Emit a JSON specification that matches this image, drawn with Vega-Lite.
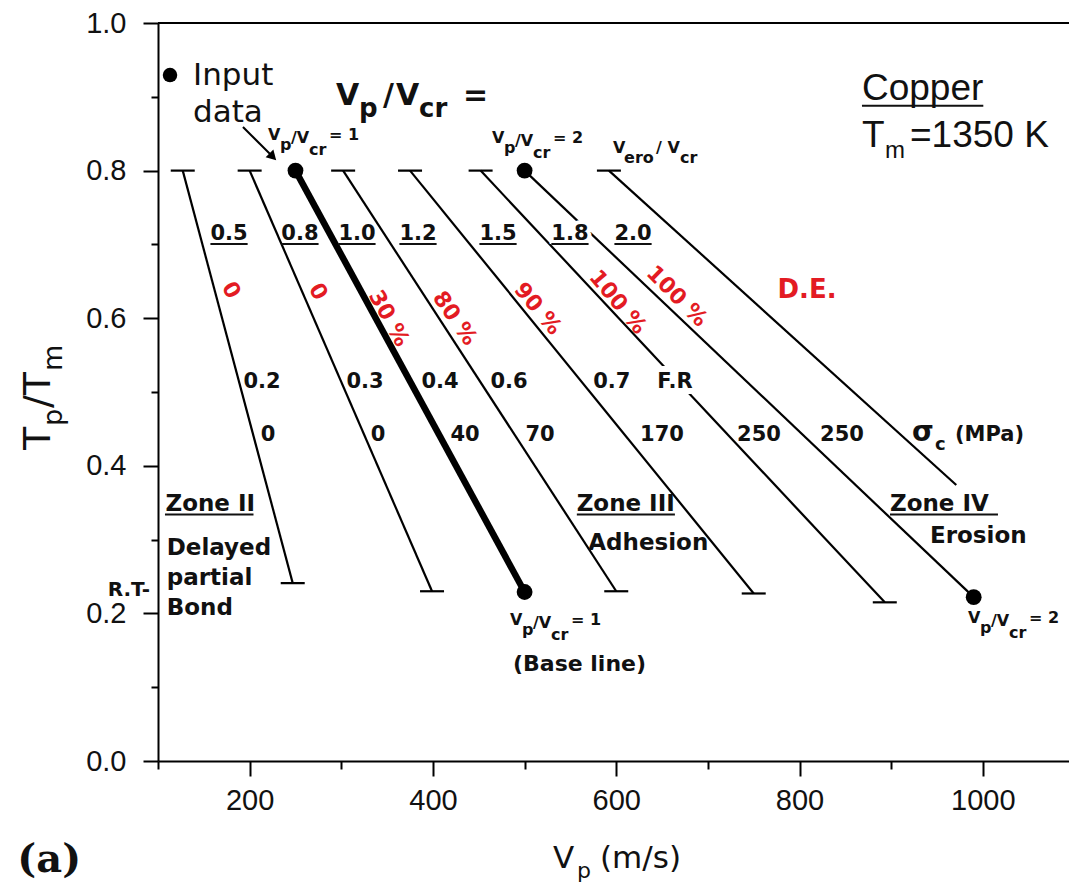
{
  "$schema": "https://vega.github.io/schema/vega-lite/v6.json",
  "width": 911,
  "height": 738,
  "autosize": {"type": "none"},
  "padding": {"left": 158, "top": 23, "right": 0, "bottom": 127},
  "background": "white",
  "config": {"view": {"stroke": null}, "text": {"font": "DejaVu Sans", "color": "#111"}},
  "datasets": {
    "frame": [{"v": 100, "v2": 1094, "t": 1}],
    "lines": [
      {"ratio": "0.5", "v": 127, "t": 0.8, "end": "cap"}, {"ratio": "0.5", "v": 247, "t": 0.241, "end": "cap"},
      {"ratio": "0.8", "v": 200, "t": 0.8, "end": "cap"}, {"ratio": "0.8", "v": 399, "t": 0.23, "end": "cap"},
      {"ratio": "1.0", "v": 250, "t": 0.8, "end": "dot"}, {"ratio": "1.0", "v": 500, "t": 0.229, "end": "dot"},
      {"ratio": "1.2", "v": 302, "t": 0.8, "end": "cap"}, {"ratio": "1.2", "v": 600, "t": 0.23, "end": "cap"},
      {"ratio": "1.5", "v": 375, "t": 0.8, "end": "cap"}, {"ratio": "1.5", "v": 750, "t": 0.227, "end": "cap"},
      {"ratio": "1.8", "v": 452, "t": 0.8, "end": "cap"}, {"ratio": "1.8", "v": 893, "t": 0.215, "end": "cap"},
      {"ratio": "2.0", "v": 500, "t": 0.8, "end": "dot"}, {"ratio": "2.0", "v": 990, "t": 0.222, "end": "dot"},
      {"ratio": "ero", "v": 592, "t": 0.8, "end": "cap"}, {"ratio": "ero", "v": 971, "t": 0.374, "end": "open"}
    ],
    "arrow": [{"v": 192.7, "t": 0.8591, "v2": 225.3, "t2": 0.8187}],
    "markers": [{"v": 113.1, "t": 0.9295}],
    "ratios": [
      {"label": "0.5", "v": 177.5, "t": 0.706}, {"label": "0.8", "v": 254.9, "t": 0.706},
      {"label": "1.0", "v": 317.1, "t": 0.706}, {"label": "1.2", "v": 383.7, "t": 0.706},
      {"label": "1.5", "v": 471.0, "t": 0.706}, {"label": "1.8", "v": 549.5, "t": 0.706},
      {"label": "2.0", "v": 618.3, "t": 0.706}
    ],
    "underlines": [
      {"v": 157.2, "v2": 197.8, "t": 0.7005}, {"v": 234.6, "v2": 275.2, "t": 0.7005},
      {"v": 296.8, "v2": 337.4, "t": 0.7005}, {"v": 363.4, "v2": 404.0, "t": 0.7005},
      {"v": 450.7, "v2": 491.3, "t": 0.7005}, {"v": 529.2, "v2": 569.8, "t": 0.7005},
      {"v": 598.0, "v2": 638.6, "t": 0.7005},
      {"v": 107.6, "v2": 204.2, "t": 0.334}, {"v": 557.0, "v2": 664.0, "t": 0.334},
      {"v": 898.7, "v2": 1016.5, "t": 0.334},
      {"v": 868.1, "v2": 1000.5, "t": 0.888}
    ],
    "de": [
      {"de": "0", "v": 179.7, "t": 0.638}, {"de": "0", "v": 274.6, "t": 0.636},
      {"de": "30 %", "v": 352.0, "t": 0.6}, {"de": "80 %", "v": 424.0, "t": 0.6},
      {"de": "90 %", "v": 514.6, "t": 0.613}, {"de": "100 %", "v": 601.9, "t": 0.622},
      {"de": "100 %", "v": 666.3, "t": 0.63}
    ],
    "rows": [
      {"txt": "0.2", "v": 213.5, "t": 0.5054}, {"txt": "0.3", "v": 325.9, "t": 0.5054},
      {"txt": "0.4", "v": 407.7, "t": 0.5054}, {"txt": "0.6", "v": 483.0, "t": 0.5054},
      {"txt": "0.7", "v": 595.2, "t": 0.5054}, {"txt": "F.R", "v": 664.1, "t": 0.5054},
      {"txt": "0", "v": 220.0, "t": 0.4336}, {"txt": "0", "v": 340.0, "t": 0.4336},
      {"txt": "40", "v": 435.0, "t": 0.4336}, {"txt": "70", "v": 516.8, "t": 0.4336},
      {"txt": "170", "v": 649.9, "t": 0.4336}, {"txt": "250", "v": 755.8, "t": 0.4336},
      {"txt": "250", "v": 846.3, "t": 0.4336}
    ],
    "zoneText": [
      {"txt": "Zone II", "v": 108.2, "t": 0.3388}, {"txt": "Zone III", "v": 556.8, "t": 0.3392},
      {"txt": "Zone IV", "v": 898.7, "t": 0.3392},
      {"txt": "Delayed", "v": 109.5, "t": 0.2791}, {"txt": "partial", "v": 109.5, "t": 0.2385},
      {"txt": "Bond", "v": 109.5, "t": 0.1978}, {"txt": "Adhesion", "v": 569.5, "t": 0.2859},
      {"txt": "Erosion", "v": 942.3, "t": 0.2958}
    ],
    "notes": [
      {"key": "de", "txt": "D.E.", "v": 808.1, "t": 0.638},
      {"key": "base", "txt": "(Base line)", "v": 487.3, "t": 0.122},
      {"key": "copper", "txt": "Copper", "v": 868.1, "t": 0.8957},
      {"key": "input", "txt": "Input", "v": 138.2, "t": 0.916},
      {"key": "input", "txt": "data", "v": 138.2, "t": 0.8659},
      {"key": "panel", "txt": "(a)", "v": -53.5, "t": -0.1504},
      {"key": "rt", "txt": "R.T-", "v": 91.3, "t": 0.232}
    ],
    "anchors": [
      {"key": "heading", "v": 294.2, "t": 0.8889},
      {"key": "tm", "v": 868.1, "t": 0.8324},
      {"key": "sigma", "v": 922.7, "t": 0.4336},
      {"key": "vero", "v": 596.5, "t": 0.8238},
      {"key": "xtitle", "v": 531.0, "t": -0.145},
      {"key": "ytitle", "v": -17.8, "t": 0.4214}
    ],
    "vcr": [
      {"v": 220.0, "t": 0.8415, "n": "1"}, {"v": 464.4, "t": 0.8374, "n": "2"},
      {"v": 484.1, "t": 0.1843, "n": "1"}, {"v": 983.8, "t": 0.187, "n": "2"}
    ]
  },
  "encoding": {
    "x": {
      "field": "v", "type": "quantitative",
      "scale": {"domain": [100, 1094], "nice": false, "zero": false},
      "axis": {
        "title": null, "grid": false,
        "values": [100, 200, 300, 400, 500, 600, 700, 800, 900, 1000],
        "labelExpr": "datum.value % 200 == 0 ? format(datum.value, 'd') : ''",
        "tickSize": {"condition": {"test": "datum.value % 200 == 0", "value": 15}, "value": 8},
        "tickWidth": 2, "tickColor": "#000", "domainWidth": 2, "domainColor": "#000",
        "labelFont": "Liberation Sans", "labelFontSize": 29, "labelColor": "#111",
        "labelPadding": 10, "labelFlush": false, "labelOverlap": false
      }
    },
    "y": {
      "field": "t", "type": "quantitative",
      "scale": {"domain": [0, 1], "nice": false, "zero": false},
      "axis": {
        "title": null, "grid": false,
        "values": [0, 0.1, 0.2, 0.3, 0.4, 0.5, 0.6, 0.7, 0.8, 0.9, 1],
        "labelExpr": "round(datum.value * 10) % 2 == 0 ? format(datum.value, '.1f') : ''",
        "tickSize": {"condition": {"test": "round(datum.value * 10) % 2 == 0", "value": 15}, "value": 7},
        "tickWidth": 2, "tickColor": "#000", "domainWidth": 2, "domainColor": "#000",
        "labelFont": "Liberation Sans", "labelFontSize": 29, "labelColor": "#111",
        "labelPadding": 17, "labelFlush": false, "labelOverlap": false
      }
    }
  },
  "layer": [
    {"data": {"name": "frame"}, "mark": {"type": "rule", "color": "#000", "strokeWidth": 2}, "encoding": {"x2": {"field": "v2"}}},
    {"data": {"name": "lines"}, "transform": [{"filter": "datum.ratio != '1.0'"}], "mark": {"type": "line", "color": "#000", "strokeWidth": 2.2}, "encoding": {"detail": {"field": "ratio"}}},
    {"data": {"name": "lines"}, "transform": [{"filter": "datum.ratio == '1.0'"}], "mark": {"type": "line", "color": "#000", "strokeWidth": 6.5}, "encoding": {"detail": {"field": "ratio"}}},
    {"data": {"name": "lines"}, "transform": [{"filter": "datum.end == 'cap'"}], "mark": {"type": "tick", "orient": "horizontal", "size": 24, "thickness": 2.2, "color": "#000", "opacity": 1}},
    {"data": {"name": "lines"}, "transform": [{"filter": "datum.end == 'dot'"}], "mark": {"type": "point", "filled": true, "size": 250, "color": "#000", "opacity": 1}},
    {"data": {"name": "arrow"}, "mark": {"type": "rule", "color": "#000", "strokeWidth": 2}, "encoding": {"x2": {"field": "v2"}, "y2": {"field": "t2"}}},
    {"data": {"name": "arrow"}, "mark": {"type": "point", "shape": "triangle-up", "filled": true, "size": 120, "angle": 135, "color": "#000", "opacity": 1}, "encoding": {"x": {"field": "v2", "type": "quantitative"}, "y": {"field": "t2", "type": "quantitative"}}},
    {"data": {"name": "markers"}, "mark": {"type": "point", "filled": true, "size": 210, "color": "#000", "opacity": 1}},

    {"data": {"name": "ratios"}, "transform": [{"filter": "datum.label == '1.8'"}], "mark": {"type": "text", "fontWeight": "bold", "fontSize": 21, "align": "center", "baseline": "alphabetic", "fill": "white", "stroke": "white", "strokeWidth": 8}, "encoding": {"text": {"field": "label"}}},
    {"data": {"name": "rows"}, "transform": [{"filter": "datum.txt == 'F.R'"}], "mark": {"type": "text", "fontWeight": "bold", "fontSize": 21, "align": "center", "baseline": "alphabetic", "fill": "white", "stroke": "white", "strokeWidth": 12}, "encoding": {"text": {"field": "txt"}}},

    {"data": {"name": "underlines"}, "mark": {"type": "rule", "color": "#111", "strokeWidth": 2}, "encoding": {"x2": {"field": "v2"}}},
    {"data": {"name": "ratios"}, "mark": {"type": "text", "fontWeight": "bold", "fontSize": 21, "align": "center", "baseline": "alphabetic"}, "encoding": {"text": {"field": "label"}}},
    {"data": {"name": "de"}, "mark": {"type": "text", "fontWeight": "bold", "fontSize": 22, "align": "center", "baseline": "middle", "color": "#e31b23"}, "encoding": {"text": {"field": "de"}, "angle": {"condition": [{"test": "datum.v < 300", "value": 60}, {"test": "datum.v < 380", "value": 61}, {"test": "datum.v < 450", "value": 55}, {"test": "datum.v > 650", "value": 45}], "value": 50}}},
    {"data": {"name": "rows"}, "mark": {"type": "text", "fontWeight": "bold", "fontSize": 21, "align": "center", "baseline": "alphabetic"}, "encoding": {"text": {"field": "txt"}}},
    {"data": {"name": "zoneText"}, "mark": {"type": "text", "fontWeight": "bold", "fontSize": 23, "align": "left", "baseline": "alphabetic"}, "encoding": {"text": {"field": "txt"}}},

    {"data": {"name": "notes"}, "transform": [{"filter": "datum.key == 'de'"}], "mark": {"type": "text", "fontWeight": "bold", "fontSize": 26, "align": "center", "baseline": "middle", "color": "#e31b23"}, "encoding": {"text": {"field": "txt"}}},
    {"data": {"name": "notes"}, "transform": [{"filter": "datum.key == 'base'"}], "mark": {"type": "text", "fontWeight": "bold", "fontSize": 22, "align": "left", "baseline": "alphabetic"}, "encoding": {"text": {"field": "txt"}}},
    {"data": {"name": "notes"}, "transform": [{"filter": "datum.key == 'copper'"}], "mark": {"type": "text", "font": "Liberation Sans", "fontSize": 37, "align": "left", "baseline": "alphabetic"}, "encoding": {"text": {"field": "txt"}}},
    {"data": {"name": "notes"}, "transform": [{"filter": "datum.key == 'input'"}], "mark": {"type": "text", "fontSize": 31, "align": "left", "baseline": "alphabetic"}, "encoding": {"text": {"field": "txt"}}},
    {"data": {"name": "notes"}, "transform": [{"filter": "datum.key == 'panel'"}], "mark": {"type": "text", "font": "DejaVu Serif", "fontWeight": "bold", "fontSize": 40, "align": "left", "baseline": "alphabetic"}, "encoding": {"text": {"field": "txt"}}},
    {"data": {"name": "notes"}, "transform": [{"filter": "datum.key == 'rt'"}], "mark": {"type": "text", "fontWeight": "bold", "fontSize": 20, "align": "right", "baseline": "middle"}, "encoding": {"text": {"field": "txt"}}},

    {"data": {"name": "anchors"}, "transform": [{"filter": "datum.key == 'heading'"}], "mark": {"type": "text", "text": "V", "fontWeight": "bold", "fontSize": 30, "align": "left", "baseline": "alphabetic"}},
    {"data": {"name": "anchors"}, "transform": [{"filter": "datum.key == 'heading'"}], "mark": {"type": "text", "text": "p", "fontWeight": "bold", "fontSize": 26, "align": "left", "baseline": "alphabetic", "dx": 23, "dy": 12}},
    {"data": {"name": "anchors"}, "transform": [{"filter": "datum.key == 'heading'"}], "mark": {"type": "text", "text": "/", "fontWeight": "bold", "fontSize": 30, "align": "left", "baseline": "alphabetic", "dx": 47}},
    {"data": {"name": "anchors"}, "transform": [{"filter": "datum.key == 'heading'"}], "mark": {"type": "text", "text": "V", "fontWeight": "bold", "fontSize": 30, "align": "left", "baseline": "alphabetic", "dx": 60}},
    {"data": {"name": "anchors"}, "transform": [{"filter": "datum.key == 'heading'"}], "mark": {"type": "text", "text": "cr", "fontWeight": "bold", "fontSize": 26, "align": "left", "baseline": "alphabetic", "dx": 83, "dy": 12}},
    {"data": {"name": "anchors"}, "transform": [{"filter": "datum.key == 'heading'"}], "mark": {"type": "text", "text": "=", "fontWeight": "bold", "fontSize": 30, "align": "left", "baseline": "alphabetic", "dx": 127}},

    {"data": {"name": "anchors"}, "transform": [{"filter": "datum.key == 'tm'"}], "mark": {"type": "text", "text": "T", "font": "Liberation Sans", "fontSize": 37, "align": "left", "baseline": "alphabetic"}},
    {"data": {"name": "anchors"}, "transform": [{"filter": "datum.key == 'tm'"}], "mark": {"type": "text", "text": "m", "font": "Liberation Sans", "fontSize": 24, "align": "left", "baseline": "alphabetic", "dx": 23, "dy": 11}},
    {"data": {"name": "anchors"}, "transform": [{"filter": "datum.key == 'tm'"}], "mark": {"type": "text", "text": "=1350 K", "font": "Liberation Sans", "fontSize": 37, "align": "left", "baseline": "alphabetic", "dx": 48}},

    {"data": {"name": "anchors"}, "transform": [{"filter": "datum.key == 'sigma'"}], "mark": {"type": "text", "text": "σ", "fontWeight": "bold", "fontSize": 28, "align": "left", "baseline": "alphabetic"}},
    {"data": {"name": "anchors"}, "transform": [{"filter": "datum.key == 'sigma'"}], "mark": {"type": "text", "text": "c", "fontWeight": "bold", "fontSize": 18, "align": "left", "baseline": "alphabetic", "dx": 23, "dy": 9}},
    {"data": {"name": "anchors"}, "transform": [{"filter": "datum.key == 'sigma'"}], "mark": {"type": "text", "text": "(MPa)", "fontWeight": "bold", "fontSize": 21, "align": "left", "baseline": "alphabetic", "dx": 43}},

    {"data": {"name": "anchors"}, "transform": [{"filter": "datum.key == 'vero'"}], "mark": {"type": "text", "text": "V", "fontWeight": "bold", "fontSize": 16, "align": "left", "baseline": "alphabetic"}},
    {"data": {"name": "anchors"}, "transform": [{"filter": "datum.key == 'vero'"}], "mark": {"type": "text", "text": "ero", "fontWeight": "bold", "fontSize": 16, "align": "left", "baseline": "alphabetic", "dx": 11, "dy": 10}},
    {"data": {"name": "anchors"}, "transform": [{"filter": "datum.key == 'vero'"}], "mark": {"type": "text", "text": "/ V", "fontWeight": "bold", "fontSize": 16, "align": "left", "baseline": "alphabetic", "dx": 43}},
    {"data": {"name": "anchors"}, "transform": [{"filter": "datum.key == 'vero'"}], "mark": {"type": "text", "text": "cr", "fontWeight": "bold", "fontSize": 16, "align": "left", "baseline": "alphabetic", "dx": 67, "dy": 10}},

    {"data": {"name": "vcr"}, "mark": {"type": "text", "text": "V", "fontWeight": "bold", "fontSize": 16, "align": "left", "baseline": "alphabetic"}},
    {"data": {"name": "vcr"}, "mark": {"type": "text", "text": "p", "fontWeight": "bold", "fontSize": 16, "align": "left", "baseline": "alphabetic", "dx": 12, "dy": 10}},
    {"data": {"name": "vcr"}, "mark": {"type": "text", "text": "/V", "fontWeight": "bold", "fontSize": 16, "align": "left", "baseline": "alphabetic", "dx": 23, "dy": 3}},
    {"data": {"name": "vcr"}, "mark": {"type": "text", "text": "cr", "fontWeight": "bold", "fontSize": 16, "align": "left", "baseline": "alphabetic", "dx": 41, "dy": 15}},
    {"data": {"name": "vcr"}, "transform": [{"calculate": "'= ' + datum.n", "as": "eq"}], "mark": {"type": "text", "fontWeight": "bold", "fontSize": 16, "align": "left", "baseline": "alphabetic", "dx": 61}, "encoding": {"text": {"field": "eq"}}},

    {"data": {"name": "anchors"}, "transform": [{"filter": "datum.key == 'xtitle'"}], "mark": {"type": "text", "text": "V", "fontSize": 31, "align": "left", "baseline": "alphabetic"}},
    {"data": {"name": "anchors"}, "transform": [{"filter": "datum.key == 'xtitle'"}], "mark": {"type": "text", "text": "p", "fontSize": 22, "align": "left", "baseline": "alphabetic", "dx": 24, "dy": 10}},
    {"data": {"name": "anchors"}, "transform": [{"filter": "datum.key == 'xtitle'"}], "mark": {"type": "text", "text": "(m/s)", "fontSize": 31, "align": "left", "baseline": "alphabetic", "dx": 47}},

    {"data": {"name": "anchors"}, "transform": [{"filter": "datum.key == 'ytitle'"}], "mark": {"type": "text", "text": "T", "fontSize": 38, "angle": 270, "align": "left", "baseline": "alphabetic"}},
    {"data": {"name": "anchors"}, "transform": [{"filter": "datum.key == 'ytitle'"}], "mark": {"type": "text", "text": "p", "fontSize": 27, "angle": 270, "align": "left", "baseline": "alphabetic", "dx": 24, "dy": 12}},
    {"data": {"name": "anchors"}, "transform": [{"filter": "datum.key == 'ytitle'"}], "mark": {"type": "text", "text": "/T", "fontSize": 38, "angle": 270, "align": "left", "baseline": "alphabetic", "dx": 42}},
    {"data": {"name": "anchors"}, "transform": [{"filter": "datum.key == 'ytitle'"}], "mark": {"type": "text", "text": "m", "fontSize": 27, "angle": 270, "align": "left", "baseline": "alphabetic", "dx": 79, "dy": 12}}
  ]
}
